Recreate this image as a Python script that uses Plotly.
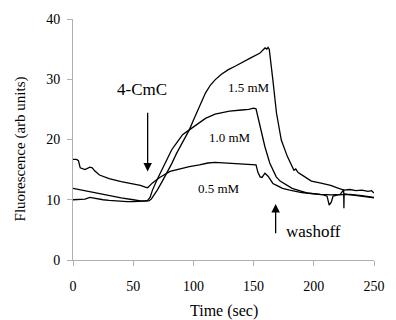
import plotly.graph_objects as go

# 1.5 mM trace
t15 = [0, 5, 10, 14, 17, 20, 25, 30, 35, 40, 45, 50, 55, 60, 63, 65, 68, 70, 74, 78, 82, 86, 90, 93, 96.6,
       100, 104, 107, 110, 114, 118, 123, 129, 135, 142, 148, 155, 158, 159.5, 161, 162, 163, 164,
       166, 169, 173, 178, 183.5, 185, 187, 191, 198, 205, 214, 219, 225, 230, 235, 240, 245, 248, 250]
y15 = [10.0, 10.0, 10.1, 10.4, 10.3, 10.1, 10.0, 9.9, 9.8, 9.8, 9.7, 9.7, 9.7, 9.7, 9.8, 10.1, 10.9, 11.6, 13.0, 14.4, 16.0, 17.7, 19.1, 20.3, 21.6,
       23.2, 25.0, 26.5, 27.7, 29.0, 29.9, 30.8, 31.6, 32.2, 33.0, 33.6, 34.3, 34.8, 35.2, 35.0, 35.3, 35.0, 33.5,
       29.9, 24.4, 19.9, 17.2, 14.9, 15.1, 14.5, 14.0, 13.1, 12.8, 12.4, 12.0, 11.6, 11.7, 11.5, 11.6, 11.4, 11.5, 11.1]

# 1.0 mM trace
t10 = [0, 5, 10, 20, 30, 40, 50, 56, 60, 62, 64, 66, 70, 74, 78, 82, 87, 91, 96.6, 102, 110, 118, 125, 130, 140, 146, 150, 152,
       155.4, 159.4, 163.4, 168.8, 172, 176.8, 182, 190, 195, 205, 215, 222, 224.8, 225, 225.2, 228, 235, 240, 245, 250]
y10 = [11.9, 11.7, 11.5, 11.0, 10.6, 10.3, 10.0, 9.8, 9.8, 9.9, 10.4, 11.6, 13.4, 15.0, 16.7, 18.3, 19.7, 20.8, 21.6, 22.4, 23.5, 24.2, 24.5, 24.7, 24.9, 25.0, 25.2, 25.1,
       22.2, 18.8, 16.1, 13.8, 13.1, 12.5, 11.9, 11.4, 11.1, 10.9, 10.8, 10.9, 11.7, 8.6, 11.0, 10.9, 10.7, 10.6, 10.4, 10.3]

# 0.5 mM trace
t05 = [0, 3, 4.5, 6, 10, 14, 16, 18, 22, 26, 30, 40, 50, 56, 60, 62, 66, 72, 80.6, 90, 96.6, 105, 112, 118, 125, 132, 140, 146, 152,
       153.5, 155.4, 157, 159.4, 162, 166, 170, 174, 180, 190, 200, 208, 211, 212.8, 214.5, 216, 220, 230, 240, 250]
y05 = [16.7, 16.7, 16.5, 15.3, 15.0, 15.4, 15.3, 14.8, 14.1, 13.8, 13.5, 13.0, 12.6, 12.4, 12.1, 12.0, 12.8, 13.7, 14.7, 15.2, 15.5, 15.8, 16.1, 16.2, 16.1, 16.1, 16.0, 15.9, 15.8,
       14.6, 13.8, 13.7, 14.4, 13.9, 12.7, 12.3, 11.9, 11.6, 11.2, 11.0, 10.8, 10.6, 9.1, 9.6, 10.6, 10.8, 10.9, 10.7, 10.4]

x_ticks = [0, 50, 100, 150, 200, 250]
y_ticks = [0, 10, 20, 30, 40]

serif = "Liberation Serif, Times New Roman, serif"

fig = go.Figure()
for t, y in [(t15, y15), (t10, y10), (t05, y05)]:
    fig.add_trace(go.Scatter(x=t, y=y, mode="lines", line=dict(color="black", width=1.3),
                             showlegend=False, hoverinfo="skip"))

# concentration labels
for txt, x, y in [("1.5 mM", 146, 28.7), ("1.0 mM", 130, 20.4), ("0.5 mM", 121.5, 11.9)]:
    fig.add_annotation(x=x, y=y, text=txt, showarrow=False, font=dict(family=serif, size=13, color="black"))

# 4-CmC arrow and label
fig.add_annotation(x=62, y=14.7, ax=62, ay=24.7, xref="x", yref="y", axref="x", ayref="y",
                   text="", showarrow=True, arrowhead=2, arrowsize=1.3, arrowwidth=1.3, arrowcolor="black")
fig.add_annotation(x=57, y=28.3, text="4-CmC", showarrow=False, font=dict(family=serif, size=17, color="black"))

# washoff arrow and label
fig.add_annotation(x=168.3, y=9.3, ax=168.3, ay=4.2, xref="x", yref="y", axref="x", ayref="y",
                   text="", showarrow=True, arrowhead=2, arrowsize=1.3, arrowwidth=1.3, arrowcolor="black")
fig.add_annotation(x=200, y=4.7, text="washoff", showarrow=False, font=dict(family=serif, size=17, color="black"))

# axis titles
fig.add_annotation(xref="paper", yref="paper", x=0.5, y=-0.212, text="Time (sec)", showarrow=False,
                   xanchor="center", yanchor="middle", font=dict(family=serif, size=16, color="black"))
fig.add_annotation(xref="paper", yref="paper", x=-0.175, y=0.46, text="Fluorescence (arb units)", showarrow=False,
                   textangle=-90, xanchor="center", yanchor="middle", font=dict(family=serif, size=15, color="black"))

fig.update_layout(
    width=396, height=320,
    margin=dict(l=73, r=11, t=19, b=60),
    paper_bgcolor="white", plot_bgcolor="white",
    font=dict(family=serif, size=14, color="black"),
)
fig.update_xaxes(range=[0, 250], tickvals=x_ticks, showgrid=False, zeroline=False,
                 showline=True, linecolor="#b0b0b0", linewidth=1,
                 ticks="outside", ticklen=5, tickcolor="#b0b0b0", ticklabelstandoff=8,
                 tickfont=dict(family=serif, size=14, color="black"))
fig.update_yaxes(range=[0, 40], tickvals=y_ticks, showgrid=False, zeroline=False,
                 showline=True, linecolor="#b0b0b0", linewidth=1,
                 ticks="outside", ticklen=5, tickcolor="#b0b0b0", ticklabelstandoff=4,
                 tickfont=dict(family=serif, size=14, color="black"))

fig.write_html("out.html")
